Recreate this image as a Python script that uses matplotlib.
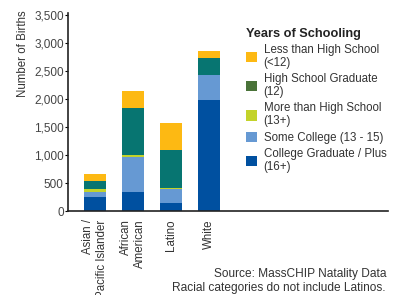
import numpy as np
import matplotlib
matplotlib.use("Agg")
import matplotlib.pyplot as plt
from matplotlib.patches import Patch

plt.rcParams["font.family"] = ["Liberation Sans", "DejaVu Sans"]

# data
groups = ["Asian /\nPacific Islander", "African\nAmerican", "Latino", "White"]
college_grad = [255, 340, 150, 1975]
some_college = [85, 630, 250, 445]
more_than_hs = [55, 35, 18, 0]
hs_grad = [145, 830, 670, 320]
less_than_hs = [125, 305, 480, 110]

series = [
    ("College Graduate / Plus\n(16+)", college_grad, "#0050a0", "#0050a0"),
    ("Some College (13 - 15)", some_college, "#6699d3", "#6699d3"),
    ("More than High School\n(13+)", more_than_hs, "#c3d32a", "#c3d32a"),
    ("High School Graduate\n(12)", hs_grad, "#077571", "#4a7339"),
    ("Less than High School\n(<12)", less_than_hs, "#fdb913", "#fdb913"),
]

fig = plt.figure(figsize=(3.94, 2.95), dpi=100)
ax = fig.add_axes([68 / 394, 84 / 295, 320 / 394, 196 / 295])

x = np.arange(len(groups))
bottom = np.zeros(len(groups))
for label, vals, color, _ in series:
    vals = np.array(vals, dtype=float)
    ax.bar(x, vals, bottom=bottom, width=0.58, color=color, linewidth=0)
    bottom += vals

ax.set_xlim(-0.71, 7.71)
ax.set_ylim(0, 3500)
ax.set_yticks(np.arange(0, 3501, 500))
ax.set_yticklabels([f"{v:,}" for v in range(0, 3501, 500)], fontsize=8.5, color="#444444")
ax.set_xticks(x)
ax.set_xticklabels(groups, rotation=90, fontsize=8.3, color="#333333",
                   ha="center", va="top", multialignment="right")
ax.tick_params(axis="y", length=2, width=0.8, pad=1)
ax.tick_params(axis="x", length=0, pad=6)

for s in ["top", "right"]:
    ax.spines[s].set_visible(False)
for s in ["left", "bottom"]:
    ax.spines[s].set_linewidth(1.2)
    ax.spines[s].set_color("#222222")
ax.spines["left"].set_bounds(0, 3530)

fig.text(23 / 394, 1 - 54 / 295, "Number of Births", rotation=90,
         ha="center", va="center", fontsize=8.3, color="#333333")

# legend, top to bottom
handles = [Patch(facecolor=lc, edgecolor="none") for _, _, _, lc in series[::-1]]
labels = [lab for lab, _, _, _ in series[::-1]]
leg = fig.legend(handles, labels, loc="upper left",
                 bbox_to_anchor=(240 / 394, 1 - 22 / 295),
                 frameon=False, fontsize=8.3, title="Years of Schooling",
                 title_fontproperties={"weight": "bold", "size": 9.2},
                 handlelength=1.0, handleheight=1.0, handletextpad=0.55,
                 labelspacing=0.38, borderpad=0, alignment="left")
leg._legend_box.sep = 3
for t in leg.get_texts():
    t.set_color("#333333")
    t.set_linespacing(1.1)
leg.get_title().set_color("#222222")

fig.text(386 / 394, 1 - 274 / 295, "Source: MassCHIP Natality Data",
         ha="right", va="center", fontsize=8.6, color="#333333")
fig.text(386 / 394, 1 - 288 / 295, "Racial categories do not include Latinos.",
         ha="right", va="center", fontsize=8.6, color="#333333")

fig.savefig("out.png", dpi=100)
